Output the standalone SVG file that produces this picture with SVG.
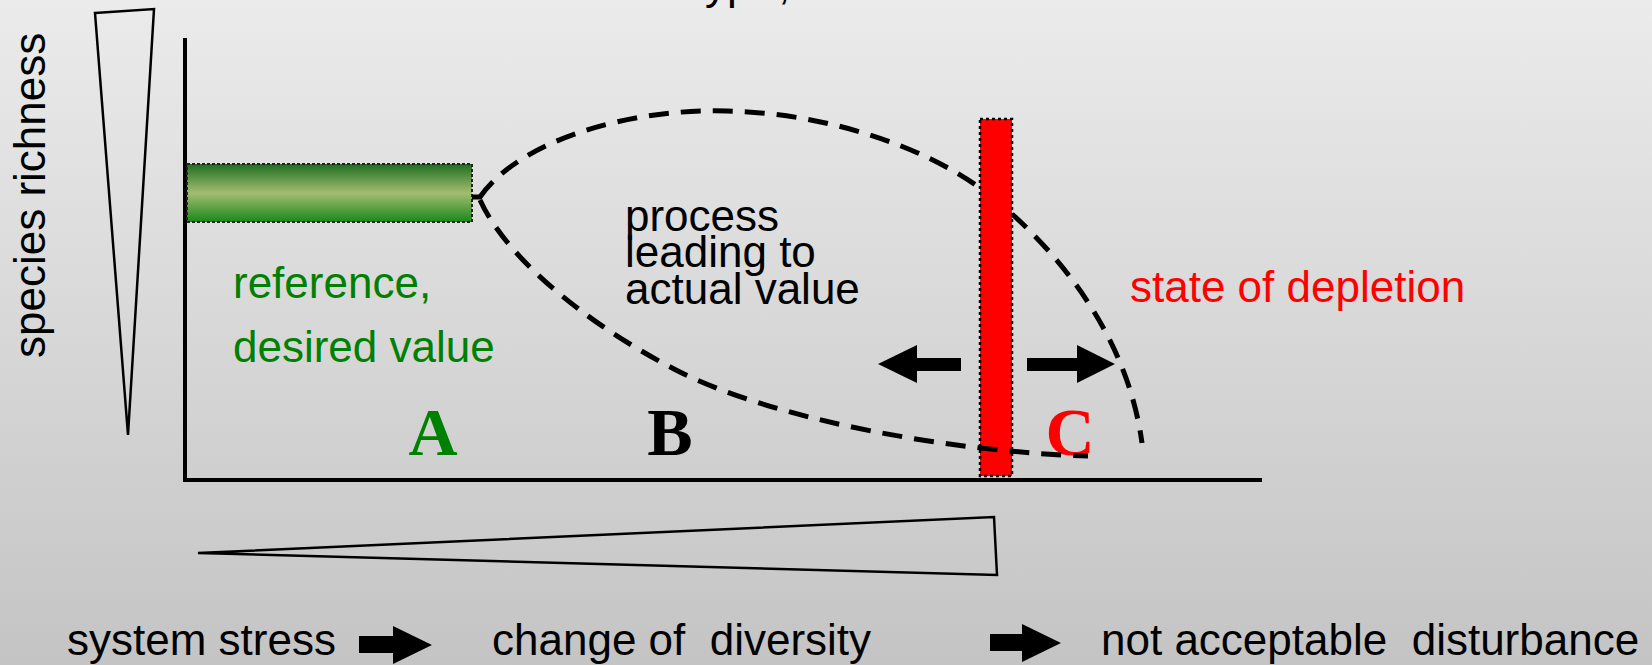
<svg xmlns="http://www.w3.org/2000/svg" width="1652" height="665" viewBox="0 0 1652 665">
<defs>
<linearGradient id="bg" x1="0" y1="0" x2="0" y2="1">
<stop offset="0" stop-color="#ebebeb"/>
<stop offset="1" stop-color="#c4c4c4"/>
</linearGradient>
<linearGradient id="gbar" x1="0" y1="0" x2="0" y2="1">
<stop offset="0" stop-color="#1f6e1f"/>
<stop offset="0.5" stop-color="#a3bd72"/>
<stop offset="1" stop-color="#1a881a"/>
</linearGradient>
</defs>
<style>
.sans{font-family:"Liberation Sans",Arial,sans-serif;font-size:44px}
.serif{font-family:"Liberation Serif","Times New Roman",serif;font-size:68px;font-weight:bold;text-anchor:middle}
.axis{stroke:#000;stroke-width:4;fill:none}
.wedge{stroke:#000;stroke-width:2.5;fill:none;stroke-linejoin:miter}
.curve{stroke:#000;stroke-width:5;fill:none;stroke-dasharray:20 12}
.blk{fill:#000}
</style>
<rect x="0" y="0" width="1652" height="665" fill="url(#bg)"/>
<text class="sans" y="-1" x="705 727 778">yp,</text>

<g id="wedge-species">
<polygon class="wedge" points="95,13 154,9 128,435"/>
<text class="sans" transform="translate(45,358) rotate(-90)">species richness</text>
</g>
<g id="wedge-stress">
<polygon class="wedge" points="198,553 994,517 997,575"/>
</g>

<g id="axes">
<line class="axis" x1="185" y1="38" x2="185" y2="482"/>
<line class="axis" x1="183" y1="480" x2="1262" y2="480"/>
</g>

<g id="reference-bar">
<rect x="187" y="164" width="285" height="58" fill="url(#gbar)" stroke="#222" stroke-width="2" stroke-dasharray="3 2"/>
</g>
<g id="reference-label">
<text class="sans" x="233" y="298" fill="#008000">reference,</text>
<text class="sans" x="233" y="362" fill="#008000">desired value</text>
<text class="serif" x="433" y="455" fill="#008000">A</text>
</g>
<g id="process-label">
<text class="sans" x="625" y="231">process</text>
<text class="sans" x="625" y="267">leading to</text>
<text class="sans" x="625" y="304">actual value</text>
<text class="serif" x="670" y="455" fill="#000">B</text>
</g>
<g id="depletion-label">
<text class="sans" x="1130" y="302" fill="#ff0000">state of depletion</text>
<text class="serif" x="1070" y="455" fill="#ff0000">C</text>
</g>

<g id="threshold-bar">
<rect x="980" y="119" width="32" height="357" fill="#ff0000" stroke="#000" stroke-width="2.5" stroke-dasharray="3 3"/>
</g>

<g id="connectors">
<line x1="472" y1="197" x2="482" y2="197" stroke="#000" stroke-width="5"/>
<path class="curve" d="M480,197 C520,140 630,108 727,111 C824,113 920,145 980,188 M1012,214 C1065,262 1128,340 1142,443"/>
<path class="curve" d="M480,200 C505,255 580,320 674,369 C770,419 950,452 1088,456"/>
<polygon class="blk" points="961,358 917,358 917,345 878,364 917,383 917,371 961,371"/>
<polygon class="blk" points="1027,358 1077,358 1077,345 1115,364 1077,383 1077,371 1027,371"/>
</g>

<g id="legend">
<text class="sans" x="67" y="655">system stress</text>
<polygon class="blk" points="359,636 393,636 393,626 432,645 393,664 393,653 359,653"/>
<text class="sans" x="492" y="655">change of&#160; diversity</text>
<polygon class="blk" points="990,634 1022,634 1022,624 1061,643 1022,662 1022,651 990,651"/>
<text class="sans" x="1101" y="655">not acceptable&#160; disturbance</text>
</g>
</svg>
